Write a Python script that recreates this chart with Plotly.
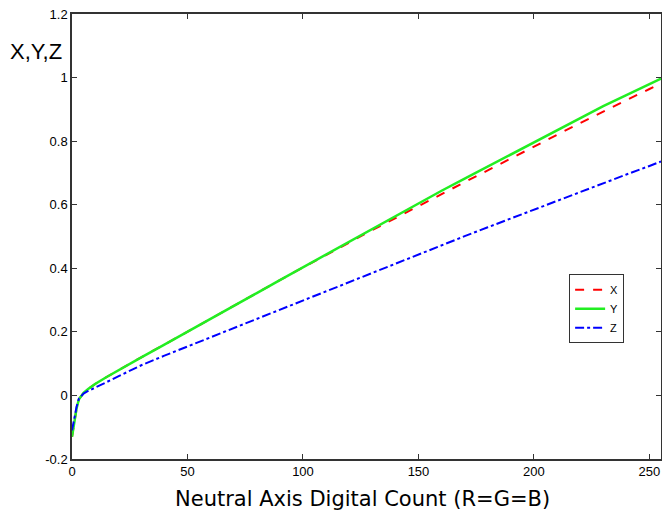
import plotly.graph_objects as go

digital_count = [0, 1, 2, 3, 4, 5, 7, 10, 15, 20, 30, 40, 50, 60, 70, 80, 90, 100,
                 110, 120, 130, 140, 150, 160, 170, 180, 190, 200, 210, 220, 230,
                 240, 250, 255]

y_values = [-0.13, -0.08, -0.04, -0.012, 0.0, 0.008, 0.02, 0.036, 0.058, 0.079,
            0.12, 0.16, 0.2, 0.241, 0.282, 0.322, 0.363, 0.403,
            0.444, 0.484, 0.525, 0.565, 0.605, 0.644, 0.682, 0.72, 0.759, 0.797,
            0.835, 0.873, 0.91, 0.945, 0.98, 0.997]

x_values = [-0.13, -0.08, -0.04, -0.012, 0.0, 0.008, 0.02, 0.036, 0.058, 0.079,
            0.12, 0.16, 0.2, 0.241, 0.282, 0.322, 0.363, 0.403,
            0.442, 0.481, 0.52, 0.558, 0.597, 0.635, 0.671, 0.708, 0.746, 0.783,
            0.82, 0.857, 0.894, 0.929, 0.964, 0.981]

z_values = [-0.11, -0.07, -0.035, -0.01, 0.0, 0.006, 0.014, 0.024, 0.042, 0.06,
            0.095, 0.125, 0.154, 0.183, 0.213, 0.242, 0.271, 0.3,
            0.329, 0.358, 0.387, 0.416, 0.445, 0.473, 0.501, 0.529, 0.557, 0.585,
            0.613, 0.64, 0.668, 0.695, 0.722, 0.736]

x_tick_vals = [0, 50, 100, 150, 200, 250]
x_tick_text = ["0", "50", "100", "150", "200", "250"]
y_tick_vals = [-0.2, 0, 0.2, 0.4, 0.6, 0.8, 1.0, 1.2]
y_tick_text = ["-0.2", "0", "0.2", "0.4", "0.6", "0.8", "1", "1.2"]

fig = go.Figure()
fig.add_trace(go.Scatter(x=digital_count, y=x_values, mode="lines", name="X",
                         line=dict(color="#ff0000", width=2, dash="dash")))
fig.add_trace(go.Scatter(x=digital_count, y=y_values, mode="lines", name="Y",
                         line=dict(color="#22ee22", width=2.5, dash="solid")))
fig.add_trace(go.Scatter(x=digital_count, y=z_values, mode="lines", name="Z",
                         line=dict(color="#0000ff", width=2, dash="dashdot")))

axis_common = dict(showgrid=False, zeroline=False, showline=True, linecolor="#333333",
                   linewidth=1.5, mirror="ticks", ticks="inside", ticklen=5,
                   tickcolor="#333333", automargin=False,
                   tickfont=dict(family="Liberation Sans, Arial", size=13, color="#000"))

fig.update_xaxes(range=[0, 255], tickvals=x_tick_vals, ticktext=x_tick_text, **axis_common)
fig.update_yaxes(range=[-0.2, 1.2], tickvals=y_tick_vals, ticktext=y_tick_text, **axis_common)

fig.add_annotation(text="Neutral Axis Digital Count (R=G=B)", xref="paper", yref="paper",
                   x=0.493, y=-0.09, xanchor="center", yanchor="middle", showarrow=False,
                   font=dict(family="DejaVu Sans", size=21, color="#000"))
fig.add_annotation(text="X,Y,Z", xref="paper", yref="paper",
                   x=-0.014, y=0.915, xanchor="right", yanchor="middle", showarrow=False,
                   font=dict(family="Liberation Sans, Arial", size=22, color="#000"))

fig.update_layout(
    width=662, height=511,
    margin=dict(l=72, r=1, t=14, b=52),
    plot_bgcolor="white", paper_bgcolor="white",
    showlegend=True,
    legend=dict(x=0.844, y=0.415, xanchor="left", yanchor="top",
                bordercolor="#333333", borderwidth=1, bgcolor="white",
                font=dict(family="Liberation Sans, Arial", size=11, color="#000"),
                itemwidth=30, tracegroupgap=0),
)

# remove the page's default 8px body margin so the figure fills the window exactly
fig.write_html("out.html", config={"displayModeBar": False},
               post_script="document.body.style.margin='0';document.body.style.overflow='hidden';")
